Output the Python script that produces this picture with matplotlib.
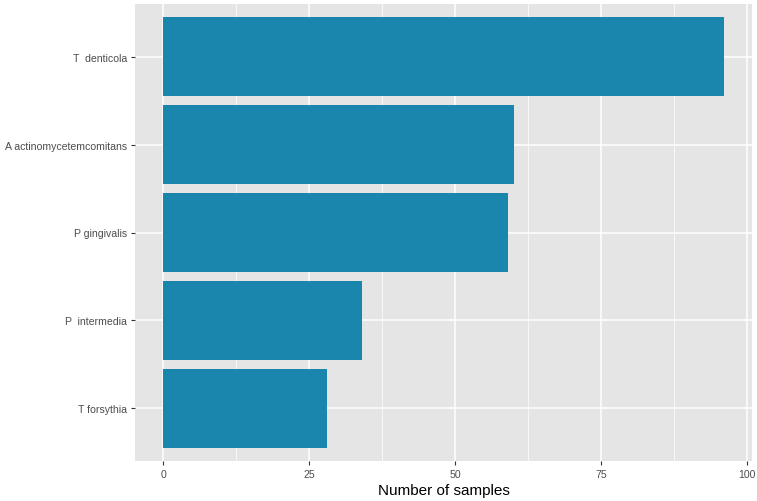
import numpy as np
import matplotlib
matplotlib.use("Agg")
import matplotlib.pyplot as plt

plt.rcParams["font.family"] = ["Liberation Sans", "DejaVu Sans"]

species = ["T forsythia", "P  intermedia", "P gingivalis",
           "A actinomycetemcomitans", "T  denticola"]
counts = [28, 34, 59, 60, 96]
x_ticks = [0, 25, 50, 75, 100]

fig = plt.figure(figsize=(7.57, 5.02), dpi=100)
ax = fig.add_axes([135 / 757, 40 / 502, 617 / 757, 457 / 502])
ax.set_facecolor("#e5e5e5")

y = np.arange(len(species))
ax.barh(y, counts, height=0.9, color="#1a85ad", zorder=3)

ax.set_xlim(-4.8, 100.8)
ax.set_ylim(-0.6, len(species) - 0.4)
ax.set_xticks(x_ticks)
ax.set_xticks([12.5, 37.5, 62.5, 87.5], minor=True)
ax.set_yticks(y)
ax.set_yticklabels(species)

ax.grid(which="major", color="white", linewidth=1.1, zorder=0)
ax.grid(which="minor", axis="x", color="white", linewidth=0.5, zorder=0)
ax.set_axisbelow(True)
for s in ax.spines.values():
    s.set_visible(False)

ax.tick_params(which="major", length=3, width=0.8, color="#333333",
               labelcolor="#4d4d4d", labelsize=7.6, pad=2.5)
ax.tick_params(which="minor", length=0)
ax.set_xlabel("Number of samples", fontsize=11, color="black", labelpad=3)

fig.savefig("out.png", dpi=100)
